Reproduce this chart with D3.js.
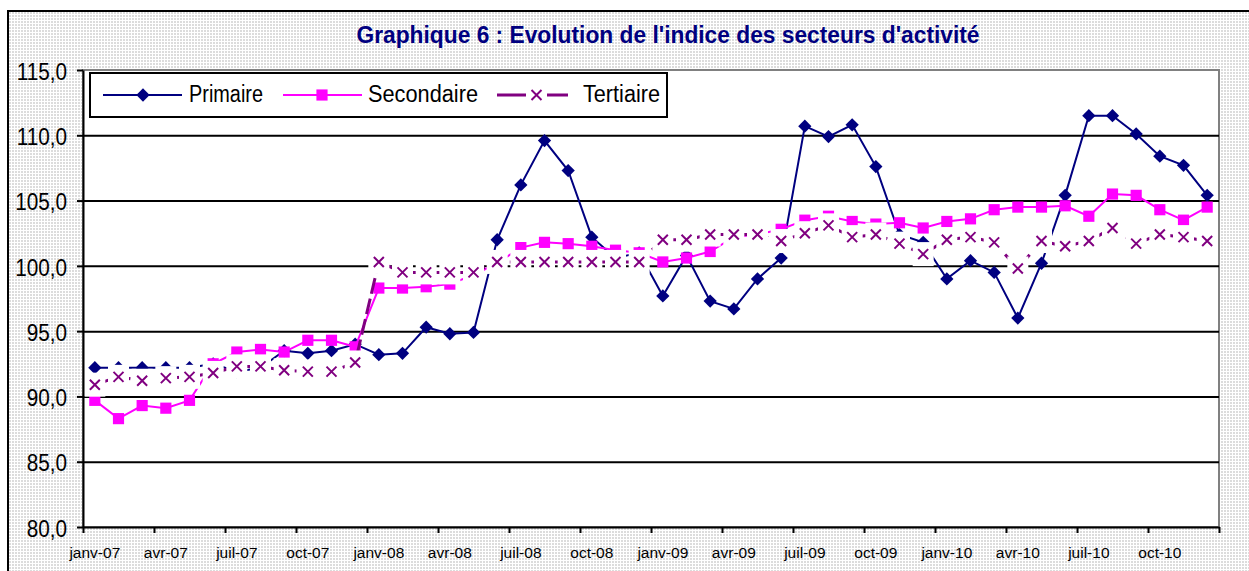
<!DOCTYPE html>
<meta charset="utf-8">
<script src="https://cdn.jsdelivr.net/npm/d3@7"></script>
<style>
  body { margin: 0; background: #fff; }
  text { font-family: "Liberation Sans", Arial, sans-serif; }
</style>
<div id="chart"></div>
<script>
// months, janv-07 .. déc-10
var categories = [
  "janv-07","févr-07","mars-07","avr-07","mai-07","juin-07","juil-07","août-07","sept-07","oct-07","nov-07","déc-07",
  "janv-08","févr-08","mars-08","avr-08","mai-08","juin-08","juil-08","août-08","sept-08","oct-08","nov-08","déc-08",
  "janv-09","févr-09","mars-09","avr-09","mai-09","juin-09","juil-09","août-09","sept-09","oct-09","nov-09","déc-09",
  "janv-10","févr-10","mars-10","avr-10","mai-10","juin-10","juil-10","août-10","sept-10","oct-10","nov-10","déc-10"
];
var primaire = [
  92.2, 92.2, 92.2, 92.2, 92.2, 92.5, 91.9, 92.2, 93.5, 93.3, 93.5, 94.0,
  93.2, 93.3, 95.3, 94.8, 94.9, 102.0, 106.2, 109.6, 107.3, 102.2, 100.6, 101.0,
  97.7, 100.8, 97.3, 96.7, 99.0, 100.6, 110.7, 109.9, 110.8, 107.6, 102.4, 101.8,
  99.0, 100.4, 99.5, 96.0, 100.2, 105.4, 111.5, 111.5, 110.1, 108.4, 107.7, 105.4
];
var secondaire = [
  89.7, 88.3, 89.3, 89.1, 89.7, 92.5, 93.4, 93.6, 93.4, 94.3, 94.3, 93.8,
  98.3, 98.3, 98.4, 98.6, 99.3, 100.2, 101.4, 101.8, 101.7, 101.5, 101.2, 101.0,
  100.3, 100.6, 101.1, 102.2, 102.4, 102.8, 103.5, 103.8, 103.4, 103.2, 103.3, 102.9,
  103.4, 103.6, 104.3, 104.5, 104.5, 104.6, 103.8, 105.5, 105.4, 104.3, 103.5, 104.5
];
var tertiaire = [
  90.9, 91.5, 91.2, 91.4, 91.5, 91.8, 92.3, 92.3, 92.0, 91.9, 91.9, 92.6,
  100.3, 99.5, 99.5, 99.5, 99.5, 100.3, 100.3, 100.3, 100.3, 100.3, 100.3, 100.3,
  102.0, 102.0, 102.4, 102.4, 102.4, 101.9, 102.5, 103.1, 102.2, 102.4, 101.7, 100.9,
  102.0, 102.2, 101.8, 99.8, 101.9, 101.5, 101.9, 102.9, 101.7, 102.4, 102.2, 101.9
];
var yTicks = [80, 85, 90, 95, 100, 105, 110, 115];
var seriesNames = ["Primaire", "Secondaire", "Tertiaire"];

var navy = "#000080", pink = "#ff00ff", purple = "#800080";

var margin = {top: 70, right: 30, bottom: 44, left: 83},
    width = 1136,
    height = 457;

var svg = d3.select("#chart")
  .append("svg")
    .attr("width", 1249)
    .attr("height", 571);

// dotted background of the chart area
var pat = svg.append("defs").append("pattern")
    .attr("id", "dots")
    .attr("width", 3).attr("height", 3)
    .attr("patternUnits", "userSpaceOnUse");
pat.append("rect").attr("width", 3).attr("height", 3).attr("fill", "#fff");
pat.append("rect").attr("width", 2).attr("height", 2).attr("fill", "#dcdcdc");

svg.append("rect")
    .attr("x", 8).attr("y", 11)
    .attr("width", 1300).attr("height", 600)
    .attr("fill", "url(#dots)")
    .attr("stroke", "#000").attr("stroke-width", 2);

svg.append("text")
    .attr("x", 668).attr("y", 43)
    .attr("text-anchor", "middle")
    .attr("fill", navy)
    .style("font-size", "23px").style("font-weight", "bold")
    .attr("textLength", 623).attr("lengthAdjust", "spacingAndGlyphs")
    .text("Graphique 6 : Evolution de l'indice des secteurs d'activité");

var g = svg.append("g")
    .attr("transform", "translate(" + margin.left + "," + margin.top + ")");

g.append("rect")
    .attr("width", width).attr("height", height)
    .attr("fill", "#fff")
    .attr("stroke", "#808080").attr("stroke-width", 2);

var x = d3.scaleBand().domain(d3.range(categories.length)).range([0, width]);
var xt = d3.scaleLinear().domain([0, categories.length]).range([0, width]);
var y = d3.scaleLinear().domain([80, 115]).range([height, 0]);
var cx = function(i) { return x(i) + x.bandwidth() / 2; };

// gridlines
var grid = g.append("g")
    .call(d3.axisLeft(y).tickValues(yTicks.slice(1, -1)).tickSize(-width).tickFormat(""));
grid.select(".domain").remove();
grid.selectAll("line").attr("stroke", "#000").attr("stroke-width", 2);

var line = d3.line()
    .x(function(d, i) { return cx(i); })
    .y(function(d) { return y(d); });

// Primaire
g.append("path").datum(primaire)
    .attr("d", line).attr("fill", "none")
    .attr("stroke", navy).attr("stroke-width", 2);
g.selectAll(".dia").data(primaire).enter().append("path")
    .attr("d", d3.symbol(d3.symbolSquare, 88))
    .attr("transform", function(d, i) { return "translate(" + cx(i) + "," + y(d) + ") rotate(45)"; })
    .attr("fill", navy);

// Secondaire
g.append("path").datum(secondaire)
    .attr("d", line).attr("fill", "none")
    .attr("stroke", pink).attr("stroke-width", 2);
g.selectAll(".sq").data(secondaire).enter().append("path")
    .attr("d", d3.symbol(d3.symbolSquare, 125))
    .attr("transform", function(d, i) { return "translate(" + cx(i) + "," + y(d) + ")"; })
    .attr("fill", pink);

// Tertiaire
g.append("path").datum(tertiaire)
    .attr("d", line).attr("fill", "none")
    .attr("stroke", purple).attr("stroke-width", 3)
    .attr("stroke-dasharray", "16,5");
g.selectAll(".bx").data(tertiaire).enter().append("rect")
    .attr("x", function(d, i) { return cx(i) - 10.5; })
    .attr("y", function(d) { return y(d) - 12; })
    .attr("width", 21).attr("height", 24)
    .attr("fill", "#fff");
g.selectAll(".xm").data(tertiaire).enter().append("path")
    .attr("d", d3.symbol(d3.symbolX, 67))
    .attr("transform", function(d, i) { return "translate(" + cx(i) + "," + y(d) + ")"; })
    .attr("fill", "none").attr("stroke", purple).attr("stroke-width", 2);

// Y axis
var yAxis = g.append("g")
    .call(d3.axisLeft(y).tickValues(yTicks).tickSize(6).tickSizeOuter(0)
      .tickFormat(function(d) { return d3.format(".1f")(d).replace(".", ","); }));
yAxis.select(".domain").attr("stroke", "#000").attr("stroke-width", 2);
yAxis.selectAll("line").attr("stroke", "#000").attr("stroke-width", 2);
yAxis.selectAll("text")
    .attr("x", -16).attr("dy", "0.4em")
    .attr("fill", "#000")
    .style("font-size", "23px")
    .each(function() {
      var t = d3.select(this);
      t.attr("textLength", this.getComputedTextLength() * 0.9).attr("lengthAdjust", "spacingAndGlyphs");
    });

// X axis: tick marks every 3 months on category boundaries
var xTicks = g.append("g")
    .attr("transform", "translate(0," + height + ")")
    .call(d3.axisBottom(xt).tickValues(d3.range(0, categories.length + 1, 3)).tickFormat("").tickSize(6).tickSizeOuter(0));
xTicks.select(".domain").attr("stroke", "#000").attr("stroke-width", 2);
xTicks.selectAll("line").attr("stroke", "#000").attr("stroke-width", 2);

var xLabels = g.append("g")
    .attr("transform", "translate(0," + height + ")")
    .call(d3.axisBottom(x).tickValues(d3.range(0, categories.length, 3)).tickSize(0)
      .tickFormat(function(i) { return categories[i]; }));
xLabels.select(".domain").remove();
xLabels.selectAll("text")
    .attr("y", 20)
    .attr("fill", "#000")
    .style("font-size", "15.5px");

// Legend
var leg = svg.append("g");
leg.append("rect")
    .attr("x", 90).attr("y", 73).attr("width", 577).attr("height", 44)
    .attr("fill", "#fff").attr("stroke", "#000").attr("stroke-width", 2);

leg.append("line").attr("x1", 103).attr("x2", 182).attr("y1", 95).attr("y2", 95)
    .attr("stroke", navy).attr("stroke-width", 2);
leg.append("path").attr("d", d3.symbol(d3.symbolSquare, 88))
    .attr("transform", "translate(143,95) rotate(45)").attr("fill", navy);

leg.append("line").attr("x1", 283).attr("x2", 362).attr("y1", 95).attr("y2", 95)
    .attr("stroke", pink).attr("stroke-width", 2);
leg.append("path").attr("d", d3.symbol(d3.symbolSquare, 125))
    .attr("transform", "translate(322,95)").attr("fill", pink);

leg.append("line").attr("x1", 497).attr("x2", 568).attr("y1", 95).attr("y2", 95)
    .attr("stroke", purple).attr("stroke-width", 3);
leg.append("rect").attr("x", 526).attr("y", 83).attr("width", 21).attr("height", 24).attr("fill", "#fff");
leg.append("path").attr("d", d3.symbol(d3.symbolX, 67))
    .attr("transform", "translate(536.5,95)")
    .attr("fill", "none").attr("stroke", purple).attr("stroke-width", 2);

var legText = [{x: 189, w: 74}, {x: 368, w: 110}, {x: 583, w: 77}];
leg.selectAll(".lt").data(seriesNames).enter().append("text")
    .attr("x", function(d, i) { return legText[i].x; })
    .attr("y", 102)
    .attr("textLength", function(d, i) { return legText[i].w; })
    .attr("lengthAdjust", "spacingAndGlyphs")
    .style("font-size", "23px")
    .attr("fill", "#000")
    .text(function(d) { return d; });
</script>
